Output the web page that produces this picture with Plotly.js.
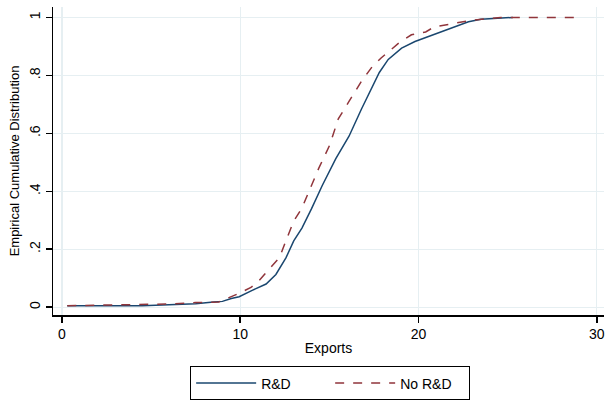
<!DOCTYPE html>
<html>
<head>
<meta charset="utf-8">
<script src="https://cdn.plot.ly/plotly-3.0.1.min.js"></script>
<style>html,body{margin:0;padding:0;background:#fff;}#chart{width:605px;height:402px;}</style>
</head>
<body>
<div id="chart"></div>
<script>
// R&D empirical CDF (exports, cumulative share)
var rdX = [0.3, 4.5, 6.0, 7.5, 8.5, 9.0, 9.5, 9.94, 10.67, 11.45, 12.0, 12.57, 13.0, 13.46, 14.0, 14.6, 15.36, 16.1, 16.8, 17.3, 17.8, 18.3, 19.05, 19.8, 20.56, 21.3, 22.1, 22.8, 23.5, 24.5, 25.3];
var rdY = [0.005, 0.005, 0.008, 0.012, 0.018, 0.02, 0.03, 0.036, 0.058, 0.08, 0.113, 0.171, 0.229, 0.273, 0.34, 0.42, 0.513, 0.59, 0.684, 0.75, 0.81, 0.855, 0.894, 0.917, 0.934, 0.952, 0.968, 0.985, 0.994, 0.998, 1.0];
// No R&D empirical CDF
var noX = [0.3, 4.6, 6.0, 7.5, 8.8, 9.4, 9.94, 10.6, 11.06, 11.6, 12.2, 12.6, 13.0, 13.46, 13.85, 14.4, 15.0, 15.5, 16.1, 16.8, 17.4, 17.9, 18.9, 19.6, 20.4, 20.9, 21.5, 22.4, 22.96, 24.6, 28.9];
var noY = [0.005, 0.008, 0.011, 0.016, 0.018, 0.034, 0.048, 0.068, 0.092, 0.13, 0.171, 0.235, 0.297, 0.342, 0.40, 0.479, 0.557, 0.65, 0.71, 0.78, 0.83, 0.86, 0.912, 0.94, 0.95, 0.968, 0.974, 0.985, 0.99, 1.0, 1.0];
var xTicks = [0, 10, 20, 30];
var xTickText = ['0', '10', '20', '30'];
var yTicks = [0, 0.2, 0.4, 0.6, 0.8, 1];
var yTickText = ['0', '.2', '.4', '.6', '.8', '1'];

var traces = [
  {x: rdX, y: rdY, name: 'R&D', mode: 'lines', line: {color: '#1a476f', width: 1.5}},
  {x: noX, y: noY, name: 'No R&D', mode: 'lines', line: {color: '#90353b', width: 1.5, dash: 'dash'}}
];
var font = {family: 'Liberation Sans, Arial, sans-serif', color: '#000'};
var layout = {
  width: 605, height: 402,
  margin: {l: 53, r: 1, t: 7, b: 84},
  paper_bgcolor: '#fff', plot_bgcolor: '#fff',
  font: font,
  showlegend: true,
  xaxis: {
    range: [-0.5, 30.4], tickvals: xTicks, ticktext: xTickText,
    showgrid: true, gridcolor: '#e6eff2', gridwidth: 1.2, zeroline: false,
    showline: true, linecolor: '#000', linewidth: 1.5,
    ticks: 'outside', ticklen: 6, tickwidth: 1.5, tickcolor: '#000',
    tickfont: {size: 14, family: font.family, color: '#000'},
    title: {text: 'Exports', font: {size: 14, family: font.family, color: '#000'}, standoff: 2}
  },
  yaxis: {
    range: [-0.027, 1.036], tickvals: yTicks, ticktext: yTickText, tickangle: -90,
    showgrid: true, gridcolor: '#e6eff2', gridwidth: 1.2, zeroline: false,
    showline: true, linecolor: '#000', linewidth: 1.5,
    ticks: 'outside', ticklen: 6, tickwidth: 1.5, tickcolor: '#000',
    tickfont: {size: 14, family: font.family, color: '#000'},
    title: {text: 'Empirical Cumulative Distribution', font: {size: 13, family: font.family, color: '#000'}, standoff: 4}
  },
  legend: {
    orientation: 'h', x: 0.503, xanchor: 'center', y: -0.167, yanchor: 'top',
    bordercolor: '#000', borderwidth: 1, bgcolor: '#fff',
    font: {size: 14, family: font.family, color: '#000'},
    itemwidth: 60, entrywidth: 64, tracegroupgap: 0
  }
};
Plotly.newPlot('chart', traces, layout, {displayModeBar: false, staticPlot: true});
</script>
</body>
</html>
